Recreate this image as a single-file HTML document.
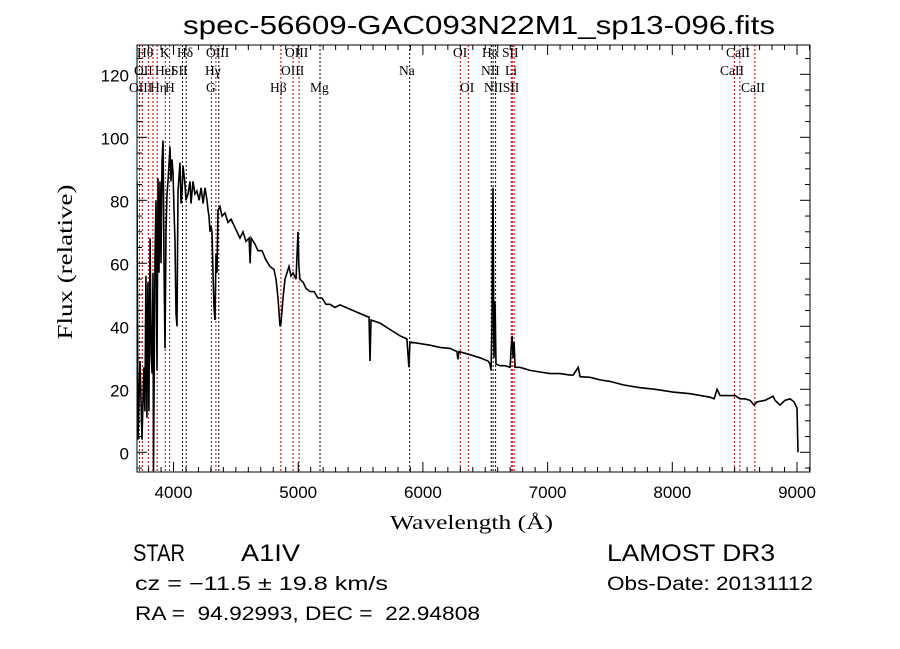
<!DOCTYPE html>
<html><head><meta charset="utf-8"><style>
html,body{margin:0;padding:0;background:#fff;width:900px;height:649px;overflow:hidden}
svg text{fill:#000;white-space:pre}
</style></head><body>
<svg id="chart" width="900" height="649" xmlns="http://www.w3.org/2000/svg">
<text x="183" y="34" font-family="Liberation Sans, sans-serif" font-size="26" textLength="592" lengthAdjust="spacingAndGlyphs">spec-56609-GAC093N22M1_sp13-096.fits</text>
<text transform="translate(72,262) rotate(-90)" text-anchor="middle" font-family="Liberation Serif, serif" font-size="21" textLength="155" lengthAdjust="spacingAndGlyphs">Flux (relative)</text>
<text x="390" y="529" font-family="Liberation Serif, serif" font-size="20" textLength="163" lengthAdjust="spacingAndGlyphs">Wavelength (Å)</text>
<text x="133" y="561" font-family="Liberation Sans, sans-serif" font-size="24" textLength="52" lengthAdjust="spacingAndGlyphs">STAR</text>
<text x="241" y="561" font-family="Liberation Sans, sans-serif" font-size="24" textLength="59" lengthAdjust="spacingAndGlyphs">A1IV</text>
<text x="607" y="561" font-family="Liberation Sans, sans-serif" font-size="24" textLength="168" lengthAdjust="spacingAndGlyphs">LAMOST DR3</text>
<text x="135" y="590" font-family="Liberation Sans, sans-serif" font-size="19" textLength="253" lengthAdjust="spacingAndGlyphs">cz = −11.5 ± 19.8 km/s</text>
<text x="607" y="590" font-family="Liberation Sans, sans-serif" font-size="19" textLength="206" lengthAdjust="spacingAndGlyphs">Obs-Date: 20131112</text>
<text x="135" y="620" font-family="Liberation Sans, sans-serif" font-size="19" textLength="345" lengthAdjust="spacingAndGlyphs" xml:space="preserve">RA =  94.92993, DEC =  22.94808</text>
</svg>
<script>
const wavelengths=[3707,3715,3731,3747,3763,3771,3779,3787,3795,3803,3812,3820,3828,3836,3840,3852,3860,3868,3876,3884,3892,3900,3908,3916,3924,3932,3940,3948,3956,3972,3980,3988,3996,4004,4012,4020,4028,4036,4052,4060,4068,4076,4092,4100,4116,4132,4140,4156,4172,4188,4205,4221,4237,4253,4269,4277,4285,4293,4301,4309,4317,4325,4333,4341,4349,4357,4373,4389,4413,4437,4461,4485,4509,4533,4557,4581,4606,4614,4622,4654,4678,4710,4742,4774,4806,4822,4838,4854,4862,4878,4894,4910,4926,4942,4958,4982,4998,5006,5014,5039,5063,5095,5127,5159,5191,5223,5255,5295,5335,5560,5568,5576,5584,5656,5736,5816,5872,5888,5896,5976,6057,6137,6217,6273,6281,6289,6378,6458,6522,6538,6546,6554,6562,6570,6578,6586,6618,6659,6699,6707,6715,6723,6731,6739,6779,6859,6940,7020,7100,7180,7205,7245,7261,7341,7421,7501,7606,7742,7862,8006,8142,8303,8335,8359,8383,8503,8543,8583,8623,8655,8680,8744,8808,8824,8864,8904,8944,8976,9000,9008];
const fluxes=[86,4,29,4,27,13,56,11,54,13,68,31,25,57,-6,62,80,26,87,57,86,60,92,99,60,33,70,82,86,97,86,93,89,77,67,44,40,83,92,79,82,91,85,80,82,86,79,86,82,83,80,84,79,84,80,77,75,70,72,70,57,46,42,63,57,77,78,75,76,73,74,72,70,68,70,67,68,60,68,66,64,64,61,59,58,55,49,40,41,49,55,57,59,56,57,55,70,59,55,54,52,51,51,49,49,47,47,46,46.8,43,43,29,42,41,39,37,36,27,35,34.5,34,33.3,33,32,29.5,32,31,30,29,28,26,40,84,30,48,28,27.5,27.5,27,33,37,30,35,27,27,26,25.5,25,25,24.5,24.5,27,24,23.8,23,22.5,21.4,20.5,20,19.1,18.6,17.5,17,20,18,18,17,17,16.5,15,16,16.5,17.8,16.5,15,16.5,17,16,14,0];
const lineWaves=[3727,3750,3798,3835,3869,3934,3969,4072,4102,4304,4340,4363,4861,4959,5007,5175,5894,6300,6364,6548,6563,6583,6708,6717,6731,8498,8542,8662];
const lineRed=[1,1,1,1,1,1,1,0,0,1,1,0,1,1,1,0,0,1,1,0,0,0,1,1,1,1,1,1];
const lineLabels=[["OII",134,75],["OIII",129,92],["Hθ",137,57],["Hη",150,92],["HeI",155,75],["K",160,57],["H",165,92],["SII",171,75],["Hδ",177,57],["G",206,92],["Hγ",205,75],["OIII",206,57],["Hβ",270,92],["OIII",281,75],["OIII",285,57],["Mg",310,92],["Na",399,75],["OI",453,57],["OI",460,92],["Hα",482,57],["SII",502,57],["NII",481,75],["Li",505,75],["NIISII",484,92],["CaII",726,57],["CaII",720,75],["CaII",741,92]];
const xTicks=[4000,5000,6000,7000,8000,9000];
const yTicks=[0,20,40,60,80,100,120];
const NS="http://www.w3.org/2000/svg";
const svg=document.getElementById('chart');
const L=137,R=810,T=45,B=472;
const X=w=>173.5+(w-4000)*0.1247;
const Y=f=>452.3-f*3.15;
function mk(tag,attrs,parent){const e=document.createElementNS(NS,tag);for(const k in attrs)e.setAttribute(k,attrs[k]);(parent||svg).appendChild(e);return e;}
const defs=mk('defs',{});const cp=mk('clipPath',{id:'pc'},defs);mk('rect',{x:L,y:T,width:R-L,height:B-T},cp);
lineWaves.forEach((w,i)=>{const l=mk('line',{x1:X(w),x2:X(w),y1:T,y2:B,stroke:lineRed[i]?'#c00000':'#000','stroke-width':1,'stroke-dasharray':'2,2'});

});
lineLabels.forEach(a=>{const t=mk('text',{x:a[1],y:a[2],'font-family':'Liberation Serif, serif','font-size':13.5});t.textContent=a[0];

});
const pts=wavelengths.map((w,i)=>X(w).toFixed(1)+','+Y(fluxes[i]).toFixed(1)).join(' ');
const pl=mk('polyline',{points:pts,fill:'none',stroke:'#000','stroke-width':1.6,'clip-path':'url(#pc)','stroke-linejoin':'miter'});


const fr=mk('rect',{x:L,y:T,width:R-L,height:B-T,fill:'none',stroke:'#000','stroke-width':1});


for(let w=3800;w<=9100;w+=100){const x=X(w);if(x<L||x>R)continue;const len=(w%1000===0)?10:5;
mk('line',{x1:x,x2:x,y1:B,y2:B-len,stroke:'#000'});mk('line',{x1:x,x2:x,y1:T,y2:T+len,stroke:'#000'});}
for(let f=-5;f<=130;f+=5){const y=Y(f);if(y<T||y>B)continue;const len=(f%20===0)?10:5;
mk('line',{x1:L,x2:L+len,y1:y,y2:y,stroke:'#000'});mk('line',{x1:R,x2:R-len,y1:y,y2:y,stroke:'#000'});}
xTicks.forEach(w=>{const t=mk('text',{x:X(w),y:B+26,'text-anchor':'middle','font-family':'Liberation Sans, sans-serif','font-size':17});t.textContent=w;

});
yTicks.forEach(f=>{const t=mk('text',{x:L-8,y:Y(f)+7,'text-anchor':'end','font-family':'Liberation Sans, sans-serif','font-size':17});t.textContent=f;

});
</script>
</body></html>
